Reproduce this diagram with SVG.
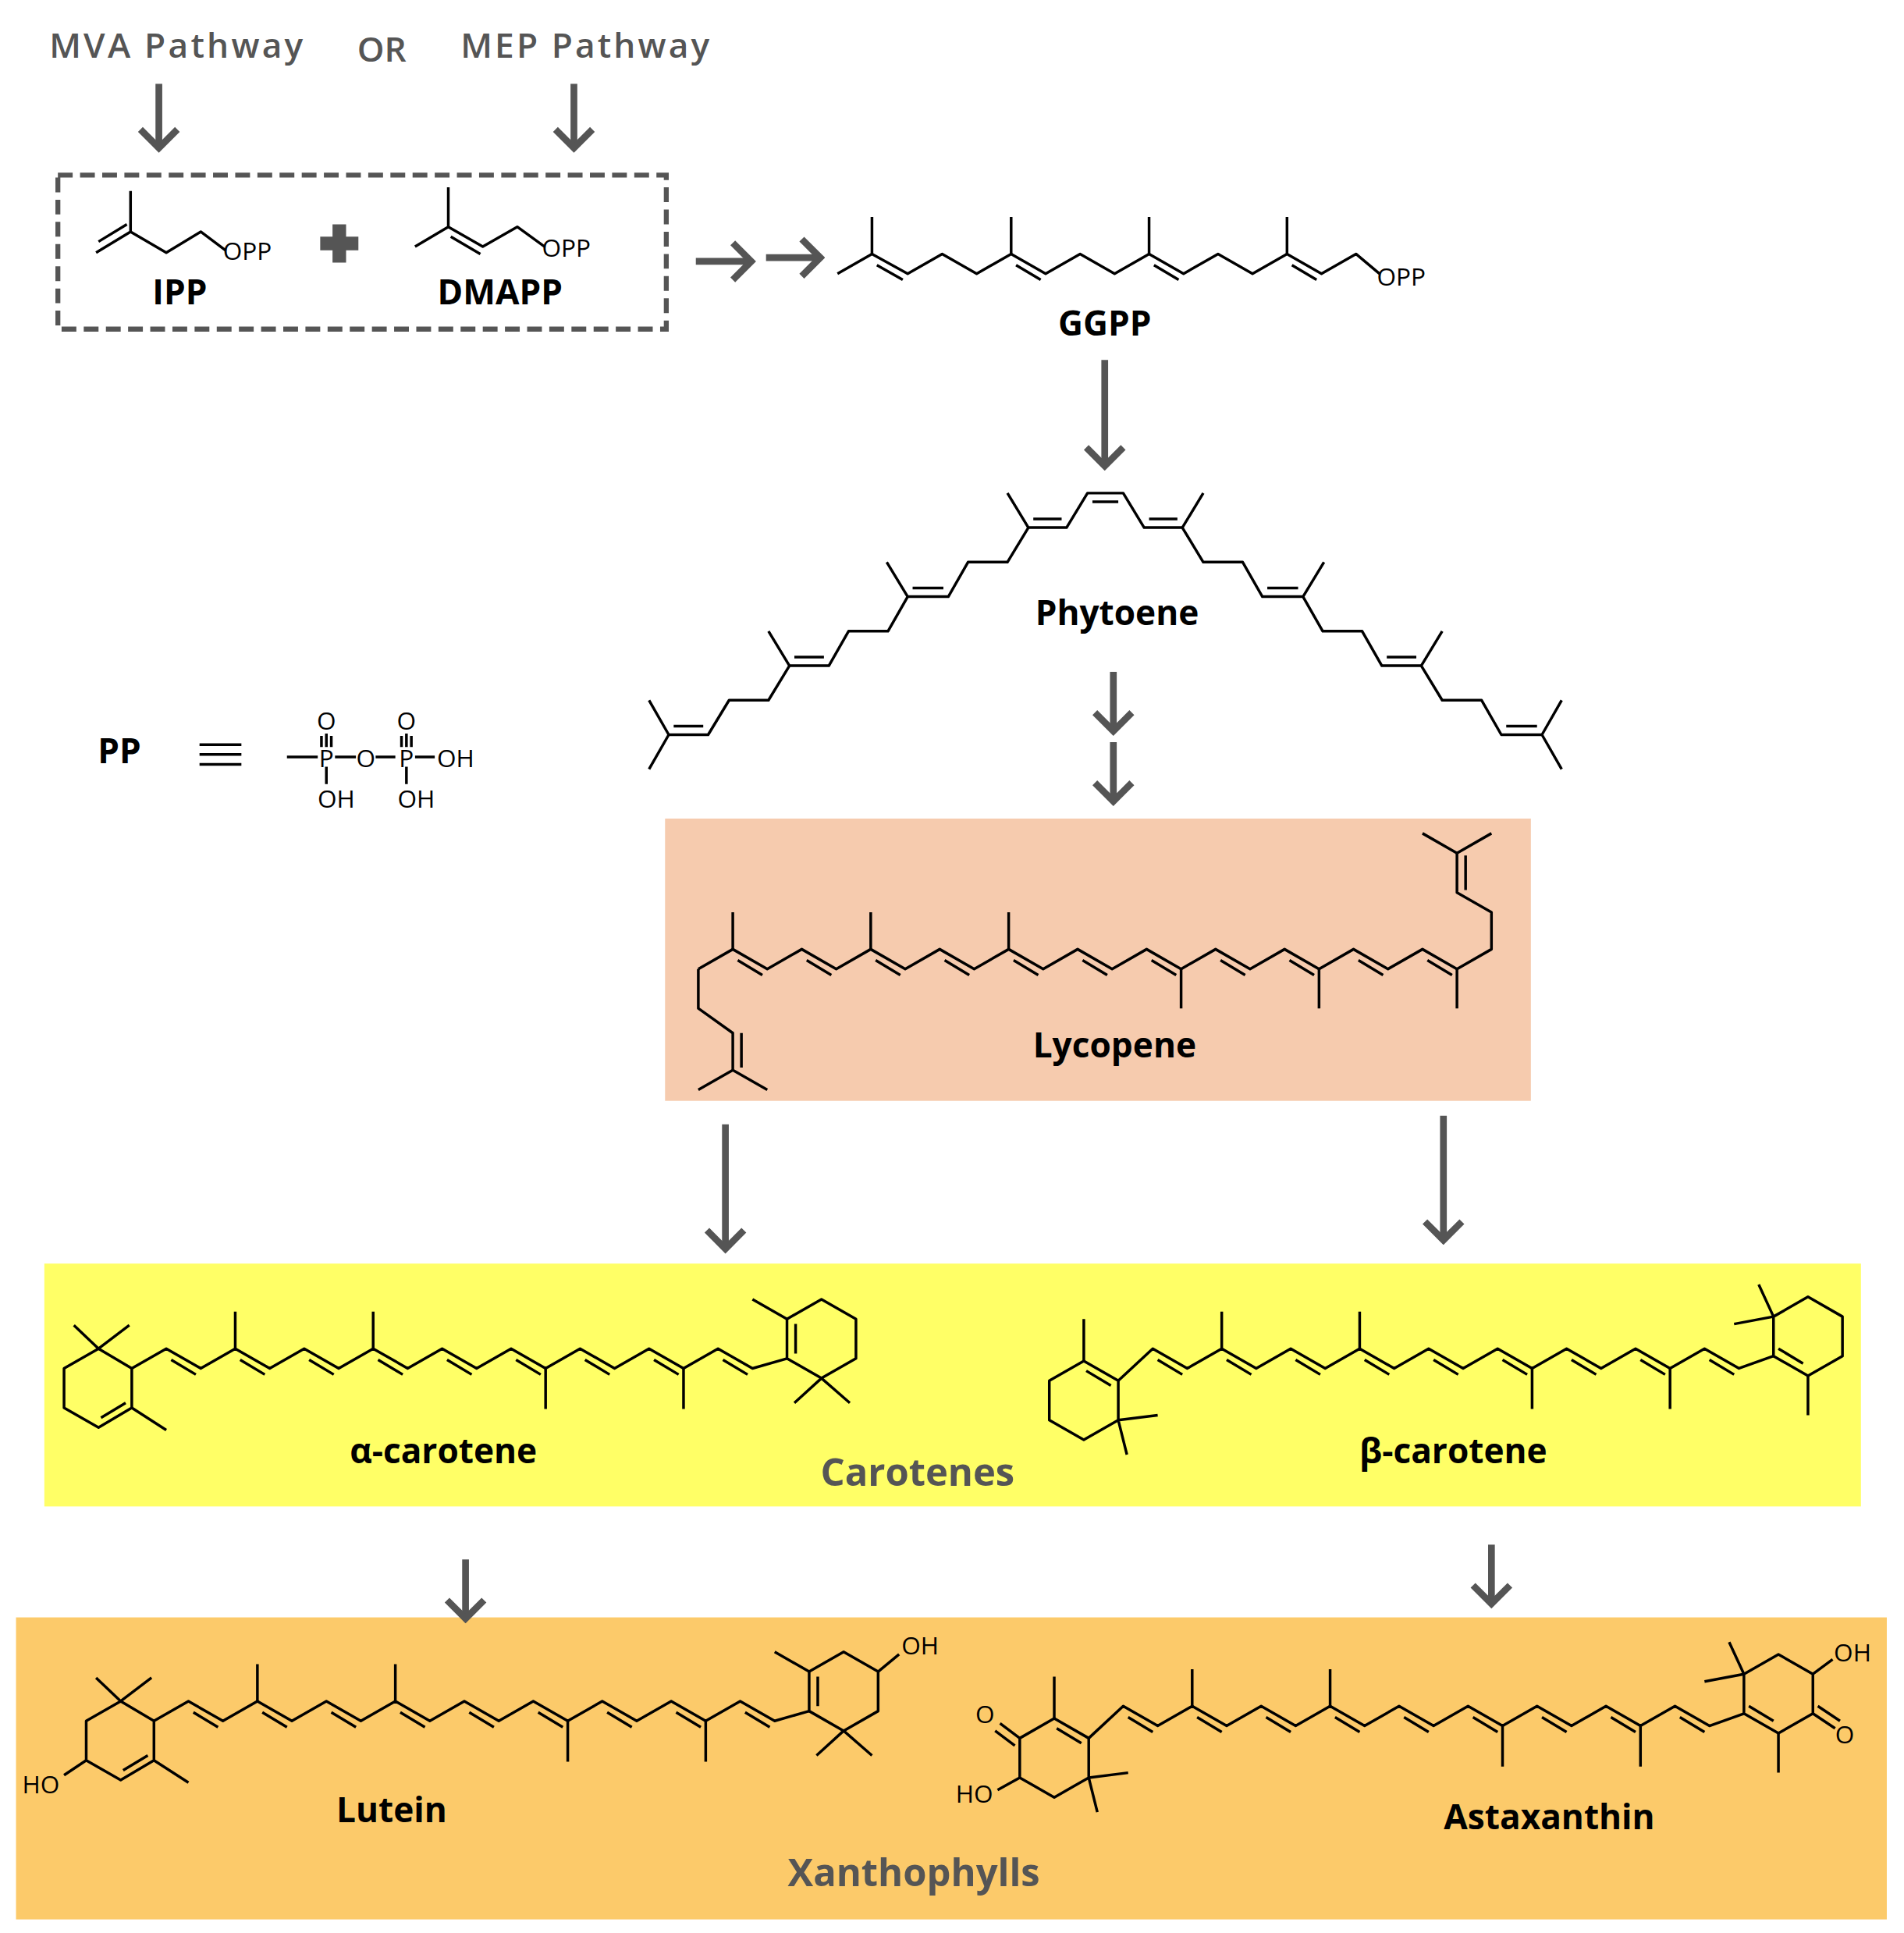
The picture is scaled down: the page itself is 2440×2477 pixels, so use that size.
<svg xmlns="http://www.w3.org/2000/svg" width="2440" height="2477" viewBox="0 0 2440 2477">
<style>
.m{fill:none;stroke:#000;stroke-width:2.2;stroke-linejoin:round}
.ar{stroke:#555;stroke-width:5.5;fill:none;marker-end:url(#ah)}
.t{font-family:"Open Sans","Liberation Sans",sans-serif;font-weight:bold;font-size:28px;fill:#000;text-anchor:middle}
.g{fill:#555}
.s{font-family:"Open Sans","Liberation Sans",sans-serif;font-size:20px;fill:#000}
</style>
<defs>
<marker id="ah" markerUnits="userSpaceOnUse" viewBox="-20 -20 24 40" refX="0" refY="0" markerWidth="24" markerHeight="40" orient="auto"><path d="M-15,-15 L0,0 L-15,15" fill="none" stroke="#555" stroke-width="5.5"/></marker>
</defs>
<rect width="2440" height="2477" fill="#fff"/>
<g transform="scale(1.5783,1.5797)">
<g id="boxes">
<rect x="540" y="664" width="703" height="229" fill="#F6CBAE"/>
<rect x="36" y="1025" width="1475" height="197" fill="#FFFF66"/>
<rect x="13" y="1312" width="1519" height="245" fill="#FCCA6A"/>
<rect x="47" y="142" width="494" height="125" fill="none" stroke="#555" stroke-width="4" stroke-dasharray="12,6"/>
</g>
<g id="connectors">
<line class="ar" x1="129" y1="68" x2="129" y2="120"/>
<line class="ar" x1="466" y1="68" x2="466" y2="120"/>
<line class="ar" x1="565" y1="212" x2="610" y2="212"/>
<line class="ar" x1="622" y1="209" x2="666" y2="209"/>
<line class="ar" x1="897" y1="292" x2="897" y2="378"/>
<line class="ar" x1="904" y1="545" x2="904" y2="593"/>
<line class="ar" x1="904" y1="602" x2="904" y2="650"/>
<line class="ar" x1="589" y1="912" x2="589" y2="1013"/>
<line class="ar" x1="1172" y1="905" x2="1172" y2="1006"/>
<line class="ar" x1="378" y1="1265" x2="378" y2="1313"/>
<line class="ar" x1="1211" y1="1253" x2="1211" y2="1301"/>
</g>
<g id="top-labels">
<text x="40" y="47" class="t g" style="text-anchor:start;font-weight:600" textLength="206">MVA Pathway</text>
<text x="310" y="50" class="t g" style="font-weight:600">OR</text>
<text x="374" y="47" class="t g" style="text-anchor:start;font-weight:600" textLength="202">MEP Pathway</text>
</g>
<g id="ipp">
<polyline class="m" points="78,205 106,188 106,155"/><polyline class="m" points="106,188 135,205 163,188 183,203"/>
<line class="m" x1="80" y1="196" x2="103" y2="182"/>
<text x="181" y="211" class="s">OPP</text>
<text x="146" y="247" class="t">IPP</text>
</g>
<path id="plus" d="M270,182h11v10h10v11h-10v10h-11v-10h-10v-11h10z" fill="#555"/>
<g id="dmapp">
<polyline class="m" points="337,200 364,184 364,152"/><polyline class="m" points="364,184 392,200 420,184 442,200"/>
<line class="m" x1="366" y1="192" x2="390" y2="206"/>
<text x="440" y="208" class="s">OPP</text>
<text x="406" y="247" class="t">DMAPP</text>
</g>
<g id="ggpp">
<polyline class="m" points="680,222 708,206 737,222 765,206 793,222 821,206 849,222 877,206 905,222 933,206 961,222 989,206 1017,222 1045,206 1073,222 1101,206 1120,222"/>
<path class="m" d="M708,206V176M821,206V176M933,206V176M1045,206V176"/>
<g transform="translate(0,7)"><path class="m" d="M712,208L733,220M825,208L845,220M937,208L957,220M1049,208L1069,220"/></g>
<text x="1118" y="232" class="s">OPP</text>
<text x="897" y="272" class="t">GGPP</text>
</g>
<g id="phytoene">
<path class="m" d="M527,568L543,596L527,624M543,596L575,596L592,568L624,568L641,540L624,512M641,540L673,540L689,512L721,512L737,484L720,456M737,484L770,484L786,456L818,456L835,428L818,400M835,428L866,428L883,400L912,400L929,428L960,428L977,400M960,428L977,456L1009,456L1025,484L1058,484L1075,456M1058,484L1074,512L1106,512L1122,540L1154,540L1171,512M1154,540L1171,568L1203,568L1219,596L1252,596L1268,568M1252,596L1268,624"/>
<path class="m" d="M547,589H571M645,533H669M741,477H766M839,421H862M887,407H908M933,421H956M1029,477H1054M1126,533H1150M1223,589H1248"/>
<text x="907" y="507" class="t">Phytoene</text>
</g>
<g id="pp-def">
<text x="97" y="619" class="t">PP</text>
<path class="m" d="M162,604H196M162,612H196M162,620H196"/>
<path class="m" d="M233,614H258M272,614H289M305,614H321M337,614H353M265,595V606M261,597V606M269,597V606M265,622V636M330,595V606M326,597V606M334,597V606M330,622V636"/>
<text x="265" y="622" class="s" text-anchor="middle">P</text>
<text x="265" y="592" class="s" text-anchor="middle">O</text>
<text x="297" y="622" class="s" text-anchor="middle">O</text>
<text x="330" y="622" class="s" text-anchor="middle">P</text>
<text x="330" y="592" class="s" text-anchor="middle">O</text>
<text x="370" y="622" class="s" text-anchor="middle">OH</text>
<text x="273" y="655" class="s" text-anchor="middle">OH</text>
<text x="338" y="655" class="s" text-anchor="middle">OH</text>
</g>
<g id="lycopene">
<polyline class="m" points="567,786 595,770 623,786 651,770 679,786 707,770 735,786 763,770 791,786 819,770 847,786 875,770 903,786 931,770 959,786 987,770 1015,786 1043,770 1071,786 1099,770 1127,786 1155,770 1183,786 1211,770 1211,740 1183,724 1183,692"/>
<path class="m" d="M595,770V740M707,770V740M819,770V740M959,786V818M1071,786V818M1183,786V818M567,786V818L595,838V868L567,884M595,868L623,884M1183,692L1155,676M1183,692L1211,676M602,838V866M1190,694V722"/>
<g transform="translate(0,7)"><path class="m" d="M599,772L619,784M655,772L675,784M711,772L731,784M767,772L787,784M823,772L843,784M879,772L899,784M935,772L955,784M991,772L1011,784M1047,772L1067,784M1103,772L1123,784M1159,772L1179,784"/></g>
<text x="905" y="858" class="t">Lycopene</text>
</g>
<g id="alpha-carotene">
<g id="acore">
<polyline class="m" points="107,1110 135,1094 163,1110 191,1094 219,1110 247,1094 275,1110 303,1094 331,1110 359,1094 387,1110 415,1094 443,1110 471,1094 499,1110 527,1094 555,1110 583,1094 611,1110 639,1102"/>
<path class="m" d="M191,1094V1064M303,1094V1064M443,1110V1143M555,1110V1143"/>
<g transform="translate(0,7)"><path class="m" d="M139,1096L159,1108M195,1096L215,1108M251,1096L271,1108M307,1096L327,1108M363,1096L383,1108M419,1096L439,1108M475,1096L495,1108M531,1096L551,1108M587,1096L607,1108"/></g>
<polygon class="m" points="639,1070 667,1054 695,1070 695,1102 667,1118 639,1102"/>
<path class="m" d="M646,1074V1098M639,1070L611,1054M667,1118L645,1138M667,1118L690,1138"/>
<polygon class="m" points="107,1110 80,1094 52,1110 52,1142 80,1158 107,1142"/>
<path class="m" d="M80,1094L60,1075M80,1094L105,1075M107,1142L135,1160M82,1150L102,1138"/>
</g>
<text x="360" y="1187" class="t">α-carotene</text>
</g>
<g id="beta-carotene">
<g id="bcore">
<polyline class="m" points="908,1120 936,1094 964,1110 992,1094 1020,1110 1048,1094 1076,1110 1104,1094 1132,1110 1160,1094 1188,1110 1216,1094 1244,1110 1272,1094 1300,1110 1328,1094 1356,1110 1384,1094 1412,1110 1440,1100"/>
<path class="m" d="M992,1094V1064M1104,1094V1064M1244,1110V1143M1356,1110V1143"/>
<g transform="translate(0,7)"><path class="m" d="M940,1096L960,1108M996,1096L1016,1108M1052,1096L1072,1108M1108,1096L1128,1108M1164,1096L1184,1108M1220,1096L1240,1108M1276,1096L1296,1108M1332,1096L1352,1108M1388,1096L1408,1108"/></g>
<polygon class="m" points="880,1104 908,1120 908,1152 880,1168 852,1152 852,1120"/>
<path class="m" d="M880,1104V1070M882,1112L902,1124M908,1152L940,1148M908,1152L915,1180"/>
<polygon class="m" points="1440,1100 1468,1116 1496,1100 1496,1068 1468,1052 1440,1068"/>
<path class="m" d="M1444,1094L1464,1106M1468,1116V1148M1440,1068L1408,1074M1440,1068L1428,1042"/>
</g>
<text x="1180" y="1187" class="t">β-carotene</text>
</g>
<text x="745" y="1205" class="t g" style="font-size:31px">Carotenes</text>
<g id="lutein">
<use href="#acore" transform="translate(18,286)"/>
<path class="m" d="M70,1428L52,1440M713,1356L730,1342"/>
<text x="18" y="1455" class="s">HO</text>
<text x="732" y="1342" class="s">OH</text>
<text x="318" y="1478" class="t">Lutein</text>
</g>
<g id="astaxanthin">
<use href="#bcore" transform="translate(-24,290)"/>
<path class="m" d="M828,1410L812,1398M824,1416L808,1404M828,1442L810,1452M1472,1358L1488,1346M1472,1390L1490,1402M1476,1384L1494,1396"/>
<text x="792" y="1398" class="s">O</text>
<text x="776" y="1462" class="s">HO</text>
<text x="1489" y="1348" class="s">OH</text>
<text x="1490" y="1414" class="s">O</text>
<text x="1258" y="1484" class="t">Astaxanthin</text>
</g>
<text x="742" y="1530" class="t g" style="font-size:31px">Xanthophylls</text>
</g>
</svg>
